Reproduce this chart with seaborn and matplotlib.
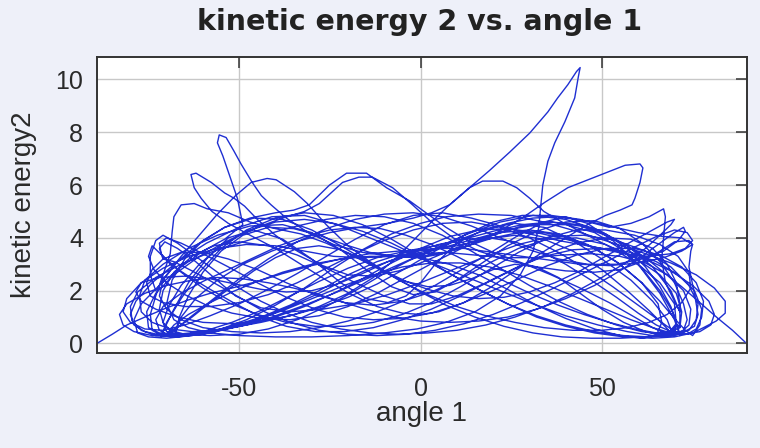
import matplotlib
matplotlib.use("Agg")
import matplotlib.pyplot as plt
import seaborn as sns
import pandas as pd

# Trajectory: (angle 1, kinetic energy 2), in drawing order
part_1 = [
    (-89.0, 0.02), (-85, 0.35), (-81, 0.7), (-76, 1.0), (-70, 1.35), (-64, 1.65), (-58, 1.9), (-52, 2.1),
    (-45, 2.35), (-38, 2.65), (-30, 2.95), (-22, 3.2), (-14, 3.4), (-6, 3.5), (2, 3.55), (10, 3.7),
    (18, 3.95), (26, 4.1), (34, 3.95), (42, 3.5), (50, 2.8), (57, 2.0), (63, 1.25), (67, 0.7), (69.5, 0.35),
    (68, 0.9), (64, 1.6), (58, 2.4), (50, 3.2), (42, 3.9), (34, 4.4), (26, 4.55), (18, 4.35), (10, 3.8),
    (4, 3.0), (0, 2.3), (-4, 1.8), (-9, 1.55), (-15, 1.7), (-22, 2.3), (-30, 3.2), (-38, 3.95), (-46, 4.3),
    (-53, 4.0), (-59, 3.2), (-64, 2.3), (-68, 1.3), (-70.5, 0.6), (-71.5, 0.25),
    (-70, 0.8), (-66, 1.7), (-61, 2.7), (-55, 3.6), (-48, 4.3), (-40, 4.75), (-32, 4.95), (-24, 4.85),
    (-16, 4.5), (-8, 3.95), (0, 3.3), (8, 2.65), (16, 2.05), (24, 1.5), (32, 1.0), (40, 0.65), (48, 0.4),
    (56, 0.25), (64, 0.2), (70, 0.25), (75, 0.4), (78, 0.6),
    (81.5, 0.85), (84, 1.15), (84, 1.6), (81, 2.1), (76, 2.6), (69, 3.05), (61, 3.45), (52, 3.85),
    (43, 4.25), (34, 4.6), (25, 4.85), (16, 4.9), (7, 4.8), (0, 4.55), (-8, 4.15), (-16, 3.55),
    (-24, 2.85), (-32, 2.1), (-40, 1.45), (-48, 0.9), (-56, 0.5), (-63, 0.3), (-70, 0.2), (-75, 0.25), (-78, 0.4),
    (-79, 0.9), (-77, 1.5), (-72, 2.2), (-66, 2.9), (-60, 3.5), (-54, 3.95), (-49, 4.5), (-50.5, 5.5),
    (-52.5, 6.3), (-54.5, 7.1), (-56, 7.6), (-55.5, 7.9), (-53.6, 7.8), (-51.5, 7.3), (-49.5, 6.8),
    (-46.4, 6.1), (-43.9, 5.6), (-41.2, 5.25), (-37, 4.75), (-31, 4.2), (-24, 3.75), (-16, 3.45),
    (-8, 3.3), (0, 3.25), (8, 3.0), (16, 2.6), (24, 2.05), (32, 1.45), (40, 0.95), (48, 0.55), (55, 0.3),
    (61, 0.2), (65, 0.3),
    (66.5, 0.8), (65.5, 1.5), (61, 2.3), (54, 3.1), (46, 3.75), (38, 4.15), (30, 4.3), (22, 4.2),
    (14, 3.85), (6, 3.4), (0, 3.05), (-6, 2.75), (-13, 2.55), (-20, 2.6), (-27, 2.95), (-34, 3.5),
    (-40, 4.1), (-45, 4.7), (-48.5, 5.2), (-51.4, 5.5), (-54, 5.7), (-57.7, 6.1), (-61.9, 6.45), (-63.3, 6.4),
]

part_2 = [
    (-62.4, 5.9), (-60.5, 5.5), (-57.5, 5.0), (-53, 4.55), (-47, 4.1), (-40, 3.6), (-33, 3.0), (-26, 2.4),
    (-19, 1.85), (-12, 1.4), (-5, 1.15), (0, 1.1), (5, 1.2), (12, 1.55), (19, 2.1), (26, 2.75), (33, 3.4),
    (40, 4.0), (46, 4.5), (51, 4.85), (55, 5.05), (58.3, 5.25), (59.1, 5.5), (60.5, 6.1), (61.3, 6.65), (60.5, 6.8),
    (56.4, 6.75), (50.8, 6.45), (46.1, 6.2), (40.6, 5.9), (34.3, 5.35), (28, 4.75), (21, 4.2), (14, 3.75),
    (7, 3.45), (0, 3.3), (-7, 3.3), (-14, 3.45), (-21, 3.75), (-28, 4.1), (-35, 4.35), (-42, 4.4),
    (-49, 4.1), (-55, 3.5), (-60, 2.7), (-64, 1.8), (-66.5, 1.0), (-67.5, 0.45),
    (-66, 1.0), (-62, 1.7), (-56, 2.4), (-49, 3.0), (-41, 3.5), (-33, 3.9), (-25, 4.2), (-17, 4.4),
    (-9, 4.55), (-2, 4.75), (3, 4.95), (8, 5.25), (13.5, 5.9), (19, 6.55), (24.6, 7.25), (30.1, 7.97),
    (35.1, 8.77), (37.8, 9.3), (40.6, 9.8), (43, 10.3), (44, 10.45), (43.5, 10.1), (42.5, 9.3),
    (39.8, 8.4), (37, 7.6), (35.1, 6.9), (33.7, 6.0), (33.2, 5.3), (32.6, 4.4), (31, 3.5), (27.5, 2.6),
    (22, 1.8), (15, 1.2), (7, 0.8), (-1, 0.55), (-10, 0.4), (-20, 0.3), (-30, 0.25), (-40, 0.25),
    (-50, 0.3), (-58, 0.4), (-64, 0.6), (-68, 0.9),
    (-70, 1.5), (-68.5, 2.4), (-65, 3.2), (-60, 3.9), (-54, 4.4), (-47, 4.75), (-40, 4.95), (-35, 5.05),
    (-30.7, 5.25), (-25.1, 6.0), (-20.4, 6.45), (-14.9, 6.45), (-9.4, 5.9), (-3, 5.4), (2, 4.9), (7, 4.4),
    (13, 3.9), (20, 3.45), (28, 3.05), (36, 2.6), (44, 2.1), (52, 1.55), (59, 1.0), (64, 0.6), (68, 0.35),
    (70.5, 0.75), (70, 1.5), (66, 2.3), (60, 3.0), (53, 3.6), (46, 4.1), (39, 4.6), (34, 5.0), (30.1, 5.5),
    (26.5, 5.9), (22.7, 6.15), (17.1, 6.15), (13.5, 5.9), (8, 5.25), (3, 4.6), (-2, 3.9), (-7, 3.2),
    (-13, 2.5), (-20, 1.9), (-28, 1.4), (-36, 1.05), (-44, 0.8), (-52, 0.6), (-60, 0.45), (-67, 0.35),
    (-72, 0.4), (-75, 0.6),
    (-75.5, 1.2), (-73, 1.9), (-68, 2.6), (-61, 3.3), (-53, 3.9), (-45, 4.4), (-38, 4.75), (-32, 5.0),
    (-27.9, 5.3), (-21.5, 6.1), (-17, 6.3), (-13.3, 6.3), (-7.7, 5.9), (-2.2, 5.25), (3, 4.6), (9, 4.0),
    (16, 3.5), (24, 3.15), (32, 2.9), (40, 2.75), (48, 2.7), (55, 2.8), (61, 3.1), (66, 3.5), (70, 3.85),
    (74, 3.9), (75, 3.75),
]

part_3 = [
    (72, 4.0), (67, 4.05), (60, 4.2), (52, 4.45), (44, 4.7), (36, 4.85), (28, 4.85), (20, 4.6), (12, 4.1),
    (4, 3.5), (-4, 2.85), (-12, 2.25), (-20, 1.75), (-28, 1.35), (-36, 1.05), (-44, 0.85), (-52, 0.75),
    (-60, 0.8), (-67, 1.0), (-73, 1.3), (-77, 1.6), (-78.5, 1.95),
    (-77, 2.3), (-72, 2.5), (-65, 2.55), (-58, 2.45), (-51, 2.25), (-44, 2.05), (-37, 1.95), (-30, 2.0),
    (-23, 2.25), (-16, 2.65), (-9, 3.1), (-2, 3.45), (5, 3.75), (12, 3.95), (19, 4.0), (26, 3.85),
    (33, 3.5), (40, 3.0), (47, 2.4), (54, 1.75), (60, 1.15), (65, 0.7), (69, 0.45), (72, 0.45), (74, 0.7),
    (74.5, 1.3), (72.5, 2.0), (68, 2.6), (62, 3.05), (55, 3.3), (47, 3.4), (39, 3.35), (31, 3.25),
    (23, 3.25), (15, 3.35), (7, 3.45), (0, 3.4), (-7, 3.2), (-14, 2.85), (-21, 2.4), (-28, 1.9),
    (-36, 1.4), (-44, 0.95), (-52, 0.6), (-60, 0.35), (-67, 0.25), (-73, 0.3), (-77, 0.5), (-79.5, 0.85),
    (-80, 1.4), (-78, 1.95), (-73, 2.5), (-66, 3.0), (-58, 3.45), (-50, 3.8), (-42, 4.15), (-34, 4.45),
    (-26, 4.7), (-18, 4.85), (-10, 4.8), (-2, 4.55), (6, 4.1), (14, 3.5), (22, 2.85), (30, 2.2),
    (38, 1.6), (46, 1.1), (54, 0.7), (61, 0.45), (67, 0.35), (72, 0.4), (75.5, 0.65), (76.5, 1.1),
    (75.5, 1.9), (74, 2.9), (74.5, 3.5), (75, 3.75),
    (72, 3.5), (67, 3.25), (60, 3.05), (52, 2.95), (44, 3.0), (36, 3.15), (28, 3.3), (20, 3.45), (12, 3.6),
    (4, 3.6), (-4, 3.45), (-12, 3.1), (-20, 2.6), (-28, 2.0), (-36, 1.45), (-44, 1.0), (-52, 0.65),
    (-60, 0.4), (-68, 0.3), (-74, 0.3), (-79, 0.45), (-82, 0.7),
    (-83, 1.1), (-81, 1.5), (-76, 1.9), (-70, 2.2), (-63, 2.4), (-56, 2.5), (-49, 2.45), (-42, 2.3),
    (-35, 2.1), (-28, 1.85), (-21, 1.55), (-14, 1.25), (-7, 1.0), (0, 0.85), (8, 0.8), (16, 0.85),
    (24, 1.0), (32, 1.3), (40, 1.7), (48, 2.2), (55, 2.75), (61, 3.3), (66, 3.8), (70, 4.2), (72.5, 4.4), (73, 4.25),
    (71, 3.9), (67, 3.5), (61, 3.2), (54, 3.0), (46, 3.0), (38, 3.2), (30, 3.55), (22, 4.0), (14, 4.45),
    (6, 4.8), (-2, 4.95), (-10, 4.9), (-18, 4.7), (-26, 4.35), (-34, 3.85), (-42, 3.2), (-50, 2.45),
    (-57, 1.7), (-63, 1.05), (-67, 0.6), (-70, 0.35),
    (-68, 0.7), (-64, 1.1), (-58, 1.55), (-52, 1.95), (-45, 2.35), (-38, 2.7), (-30, 3.0), (-22, 3.2),
    (-14, 3.3), (-6, 3.3), (0, 3.25), (6, 3.4), (13, 3.7), (20, 4.0), (27, 4.2), (34, 4.2), (41, 4.0),
    (48, 3.6), (55, 3.0), (61, 2.3), (66, 1.6), (70, 0.95), (73, 0.5), (75, 0.3),
    (77, 0.7), (77.5, 1.3), (75.5, 2.0), (71, 2.6), (65, 3.1), (58, 3.45), (50, 3.6), (42, 3.55),
    (34, 3.3), (26, 2.85), (18, 2.3), (10, 1.8), (3, 1.5), (-3, 1.5), (-10, 1.8), (-18, 2.3), (-26, 2.85),
    (-34, 3.35), (-42, 3.7), (-50, 3.85), (-57, 3.7), (-63, 3.3), (-68, 2.7), (-71, 2.0), (-72, 1.3), (-71, 0.8),
    (-69, 0.5), (-65, 0.35), (-58, 0.3), (-50, 0.35), (-42, 0.55), (-34, 0.9), (-26, 1.4), (-18, 2.0),
    (-10, 2.65), (-3, 3.15), (3, 3.5), (10, 3.9), (17, 4.25), (24, 4.55), (31, 4.75), (38, 4.8),
    (45, 4.65), (52, 4.4), (58, 4.55), (63, 4.8), (67, 5.1), (67.5, 4.8), (67, 4.0), (66.5, 3.2),
    (67.5, 2.3), (70, 1.6), (71.5, 1.2),
]

part_4 = [
    (69, 2.0), (64, 2.9), (57, 3.7), (49, 4.3), (40, 4.7), (31, 4.85), (22, 4.6), (13, 4.15), (4, 3.6),
    (-5, 3.05), (-14, 2.5), (-23, 1.95), (-32, 1.45), (-41, 1.0), (-50, 0.65), (-58, 0.4), (-65, 0.3),
    (-71, 0.3), (-76, 0.45), (-79, 0.7),
    (-80, 1.1), (-78.5, 1.6), (-74, 2.3), (-67, 3.1), (-59, 3.8), (-50, 4.4), (-41, 4.8), (-32, 4.85),
    (-23, 4.5), (-14, 4.0), (-5, 3.5), (4, 3.0), (13, 2.5), (22, 2.0), (31, 1.5), (40, 1.05), (49, 0.7),
    (57, 0.45), (64, 0.3), (70, 0.3), (74, 0.5), (76, 0.9),
    (76.5, 1.5), (74, 2.2), (69, 2.9), (62, 3.5), (54, 3.9), (45, 4.1), (36, 4.05), (27, 3.75), (18, 3.3),
    (9, 2.8), (0, 2.3), (-9, 1.85), (-18, 1.5), (-27, 1.3), (-36, 1.2), (-44, 1.35), (-51, 1.8),
    (-57, 2.5), (-62, 3.1), (-67, 3.6), (-70.5, 3.85), (-72, 3.6),
    (-71, 3.2), (-68, 3.1), (-63, 2.75), (-57, 2.3), (-50, 1.75), (-43, 1.2), (-36, 0.8), (-28, 0.5),
    (-20, 0.35), (-12, 0.3), (-4, 0.35), (4, 0.5), (12, 0.75), (20, 1.1), (28, 1.55), (36, 2.05),
    (44, 2.6), (52, 3.15), (59, 3.65), (65, 4.05), (70, 4.3), (73.5, 4.2), (75, 3.9),
    (73, 3.6), (69, 3.4), (63, 3.3), (56, 3.4), (48, 3.65), (40, 3.95), (32, 4.2), (24, 4.35), (16, 4.3),
    (8, 4.05), (0, 3.6), (-8, 3.05), (-16, 2.45), (-24, 1.9), (-32, 1.4), (-40, 1.0), (-48, 0.7),
    (-56, 0.5), (-63, 0.45), (-69, 0.55), (-74, 0.8), (-77, 1.2),
    (-77.5, 1.8), (-76, 2.4), (-71, 3.0), (-64, 3.6), (-56, 4.1), (-47, 4.45), (-38, 4.5), (-30, 4.2),
    (-22, 3.55), (-15, 2.8), (-8, 2.15), (-2, 1.85), (4, 1.95), (10, 2.4), (17, 3.05), (24, 3.7),
    (32, 4.25), (40, 4.6), (48, 4.65), (55, 4.35), (61, 3.8), (66, 3.1), (70, 2.3), (72.5, 1.5), (73.5, 0.9),
    (72.5, 0.5), (69, 0.3), (63, 0.25), (56, 0.3), (48, 0.45), (40, 0.7), (32, 1.05), (24, 1.5), (16, 2.05),
    (8, 2.65), (0, 3.25), (-8, 3.8), (-16, 4.25), (-24, 4.55), (-32, 4.7), (-40, 4.6), (-48, 4.25),
    (-55, 3.7), (-61, 3.0), (-66, 2.2), (-69.5, 1.4), (-71, 0.8),
    (-70, 0.45), (-66, 0.35), (-60, 0.4), (-53, 0.6), (-45, 0.9), (-37, 1.3), (-29, 1.75), (-21, 2.2),
    (-13, 2.6), (-5, 2.9), (3, 3.05), (11, 3.05), (19, 2.9), (27, 2.6), (35, 2.2), (43, 1.75), (51, 1.3),
    (58, 0.9), (64, 0.6), (69, 0.4), (73, 0.35), (77, 0.45), (80, 0.7),
    (81, 1.1), (79.5, 1.6), (75, 2.2), (69, 2.75), (62, 3.2), (54, 3.5), (46, 3.7), (38, 3.9), (30, 4.15),
    (22, 4.45), (14, 4.75), (6, 4.95), (-2, 4.85), (-10, 4.5), (-18, 3.95), (-26, 3.3), (-34, 2.65),
    (-42, 2.05), (-50, 1.5), (-58, 1.05), (-65, 0.7), (-71, 0.5), (-76, 0.55), (-80, 0.8),
    (-82, 1.2), (-81, 1.7), (-77, 2.3), (-71, 2.85), (-64, 3.3), (-56, 3.6), (-48, 3.75), (-40, 3.7),
    (-32, 3.5), (-24, 3.3), (-16, 3.25), (-8, 3.3), (0, 3.45), (8, 3.7), (16, 4.0), (24, 4.3), (32, 4.5),
    (40, 4.5), (48, 4.2), (55, 3.6), (61, 2.85), (66, 2.0), (69.5, 1.2), (71, 0.6), (71.5, 0.3),
]

part_5 = [
    (70, 0.9), (66, 1.9), (60, 3.0), (53, 3.9), (46, 4.55), (40, 4.8), (34, 4.6), (27, 4.1), (20, 3.5),
    (12, 2.85), (4, 2.2), (-4, 1.65), (-12, 1.2), (-20, 0.85), (-28, 0.6), (-36, 0.45), (-44, 0.4),
    (-52, 0.45), (-60, 0.6), (-66, 0.9), (-70, 1.3), (-72, 1.8),
    (-71, 2.4), (-67, 3.1), (-61, 3.8), (-54, 4.4), (-46, 4.75), (-38, 4.7), (-30, 4.3), (-22, 3.7),
    (-14, 3.05), (-6, 2.4), (2, 1.85), (10, 1.4), (18, 1.05), (26, 0.8), (34, 0.6), (42, 0.5), (50, 0.5),
    (57, 0.6), (63, 0.8), (68, 1.1), (72, 1.55), (74.5, 2.1),
    (74, 2.7), (71, 3.3), (66, 3.75), (59, 4.1), (51, 4.3), (43, 4.3), (35, 4.0), (27, 3.45), (19, 2.8),
    (11, 2.15), (3, 1.55), (-5, 1.1), (-13, 0.8), (-21, 0.65), (-29, 0.65), (-37, 0.8), (-45, 1.1),
    (-53, 1.55), (-60, 2.1), (-66, 2.7), (-71, 3.3), (-74, 3.7), (-75, 3.3),
    (-73.5, 2.8), (-70, 2.3), (-65, 1.85), (-59, 1.45), (-52, 1.15), (-44, 0.95), (-36, 0.9), (-28, 1.05),
    (-20, 1.4), (-12, 1.9), (-4, 2.5), (4, 3.1), (12, 3.65), (20, 4.1), (28, 4.45), (36, 4.6), (44, 4.5),
    (51, 4.15), (57, 3.6), (62, 2.9), (66, 2.15), (69, 1.4), (70.5, 0.8), (70, 0.4),
    (67, 0.3), (62, 0.45), (56, 0.8), (50, 1.3), (44, 1.9), (38, 2.5), (32, 2.9), (26, 3.0), (20, 2.8),
    (14, 2.45), (8, 2.2), (2, 2.15), (-4, 2.35), (-10, 2.75), (-16, 3.2), (-22, 3.55), (-28, 3.7),
    (-34, 3.6), (-40, 3.25), (-46, 2.75), (-52, 2.15), (-58, 1.55), (-63, 1.0), (-67, 0.6), (-70, 0.35),
    (-72, 0.5), (-73, 0.9), (-71, 1.4), (-66, 1.9), (-60, 2.35), (-53, 2.8), (-46, 3.25), (-39, 3.7),
    (-32, 4.05), (-25, 4.3), (-18, 4.4), (-11, 4.35), (-4, 4.1), (3, 3.75), (10, 3.3), (17, 2.8),
    (24, 2.3), (31, 1.85), (38, 1.45), (45, 1.1), (52, 0.8), (59, 0.55), (65, 0.4), (69, 0.45), (71.5, 0.6),
]

part_6 = [
    (72, 1.2), (70.5, 1.9), (66, 2.6), (59, 3.25), (51, 3.75), (43, 4.0), (35, 3.95), (27, 3.6), (19, 3.05),
    (11, 2.45), (3, 1.95), (-5, 1.6), (-13, 1.45), (-21, 1.55), (-29, 1.85), (-37, 2.3), (-45, 2.8),
    (-53, 3.2), (-60, 3.45), (-66, 3.45), (-71, 3.2), (-74, 2.8), (-75.5, 2.3),
    (-74.5, 1.8), (-71, 1.55), (-65, 1.4), (-58, 1.4), (-50, 1.55), (-42, 1.85), (-34, 2.3), (-26, 2.85),
    (-18, 3.4), (-10, 3.9), (-2, 4.3), (6, 4.55), (14, 4.6), (22, 4.4), (30, 4.0), (38, 3.45), (46, 2.8),
    (53, 2.15), (59, 1.55), (64, 1.05), (68, 0.65), (71, 0.4), (73.5, 0.35), (76, 0.55),
    (77.5, 1.0), (78, 1.6), (76, 2.3), (72, 2.9), (66, 3.35), (59, 3.6), (51, 3.6), (43, 3.35), (35, 2.95),
    (27, 2.45), (19, 1.95), (11, 1.5), (3, 1.15), (-5, 0.95), (-13, 0.9), (-21, 1.0), (-29, 1.3),
    (-37, 1.75), (-45, 2.3), (-53, 2.9), (-60, 3.4), (-66, 3.8), (-70, 4.0), (-72, 3.8),
    (-71.5, 3.4), (-69, 3.0), (-64, 2.55), (-58, 2.05), (-51, 1.5), (-44, 1.0), (-37, 0.65), (-29, 0.45),
    (-21, 0.45), (-13, 0.6), (-5, 0.9), (3, 1.3), (11, 1.8), (19, 2.35), (27, 2.9), (35, 3.4), (43, 3.8),
    (51, 4.0), (58, 3.95), (64, 3.6), (68, 3.0), (70.5, 2.3), (71.5, 1.5), (71.5, 0.6),
]

part_7 = [
    (71, 0.7), (68, 0.4), (62, 0.25), (55, 0.2), (47, 0.2), (39, 0.25), (31, 0.4), (23, 0.65), (15, 1.0),
    (7, 1.45), (0, 1.95), (-7, 2.5), (-14, 3.1), (-20, 3.7), (-26, 4.5), (-31.2, 5.3), (-34.8, 5.75),
    (-39.8, 6.2), (-42.3, 6.25), (-46.7, 6.1), (-51, 5.6), (-56, 4.9), (-61, 4.1), (-66, 3.3), (-70, 2.6), (-73, 2.0),
    (-74.5, 2.6), (-74.5, 3.3), (-73, 3.9), (-71, 4.1), (-67, 3.8), (-62, 3.3), (-56, 2.7), (-50, 2.1),
    (-44, 1.6), (-37, 1.15), (-30, 0.8), (-22, 0.55), (-14, 0.4), (-6, 0.35), (2, 0.4), (10, 0.5),
    (18, 0.7), (26, 1.0), (34, 1.4), (42, 1.9), (50, 2.5), (57, 3.1), (62, 3.6), (66, 4.1), (69, 4.5), (70, 4.7),
    (68, 4.6), (64, 4.3), (58, 3.85), (51, 3.3), (44, 2.75), (37, 2.3), (30, 1.95), (23, 1.75), (16, 1.7),
    (9, 1.8), (2, 2.05), (-5, 2.4), (-12, 2.85), (-19, 3.35), (-26, 3.8), (-33, 4.15), (-40, 4.35),
    (-47, 4.6), (-53, 4.95), (-58.8, 5.1), (-62.4, 5.3), (-66, 5.25), (-68, 4.8), (-68.5, 4.2), (-69, 3.4),
    (-71, 2.6), (-73, 1.8), (-74.5, 1.1), (-74, 0.5),
    (-72, 0.35), (-67, 0.3), (-60, 0.45), (-52, 0.8), (-44, 1.25), (-36, 1.8), (-28, 2.35), (-20, 2.85),
    (-12, 3.25), (-4, 3.5), (4, 3.7), (12, 3.95), (20, 4.25), (28, 4.5), (36, 4.6), (44, 4.45), (51, 4.1),
    (57, 3.7), (62, 3.25), (67, 2.7), (72, 2.15), (77, 1.55), (82, 0.95), (86, 0.5), (89.5, 0.05),
]

x_ticks = [-50, 0, 50]
y_ticks = [0, 2, 4, 6, 8, 10]
title_text = "kinetic energy 2 vs. angle 1"
x_label = "angle 1"
y_label = "kinetic energy2"

sns.set_theme(style="whitegrid")
plt.rcParams["font.family"] = ["Liberation Sans", "DejaVu Sans"]
plt.rcParams["axes.unicode_minus"] = False

points = part_1 + part_2 + part_3 + part_4 + part_5 + part_6 + part_7
df = pd.DataFrame(points, columns=["angle", "ke2"])

W, H = 760, 448
fig = plt.figure(figsize=(W / 100, H / 100), dpi=100, facecolor="#eef0f9")
ax = fig.add_axes([97 / W, 1 - 353 / H, 650 / W, 296 / H])
ax.set_facecolor("white")

sns.lineplot(data=df, x="angle", y="ke2", sort=False, estimator=None,
             ax=ax, color="#1f2fd2", linewidth=1.0)

ax.set_xlim(-89.2, 90)
ax.set_ylim(-0.36, 10.85)
ax.set_xticks(x_ticks)
ax.set_yticks(y_ticks)
ax.grid(True, color="#c8c8c8", linewidth=1.0)
ax.tick_params(direction="in", length=8, width=1.1, top=True, right=True,
               colors="#333333", labelcolor="#2a2a2a", labelsize=18)
ax.tick_params(axis="x", pad=17)
ax.tick_params(axis="y", pad=10)
for s in ax.spines.values():
    s.set_color("#333333")
    s.set_linewidth(1.4)

ax.set_xlabel(x_label, fontsize=20, color="#2a2a2a", labelpad=0)
ax.set_ylabel(y_label, fontsize=20, color="#2a2a2a", labelpad=13)
fig.text(420 / W, 1 - 22 / H, title_text, ha="center", va="center",
         fontsize=20.5, fontweight="bold", color="#222222", family="DejaVu Sans")

fig.savefig("out.png", dpi=100, facecolor=fig.get_facecolor())
